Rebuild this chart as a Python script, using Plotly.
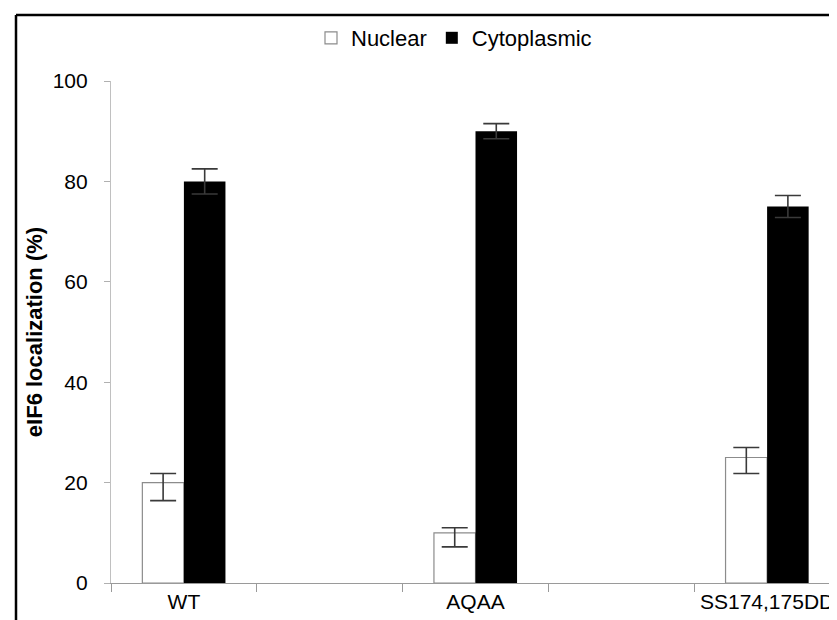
import plotly.graph_objects as go

categories = ["WT", "", "AQAA", "", "SS174,175DD"]
nuclear = [20, None, 10, None, 25]
nuclear_err_plus = [1.8, None, 1.0, None, 2.0]
nuclear_err_minus = [3.6, None, 2.8, None, 3.2]
cyto = [80, None, 90, None, 75]
cyto_err_plus = [2.5, None, 1.5, None, 2.2]
cyto_err_minus = [2.5, None, 1.5, None, 2.2]
y_ticks = [0, 20, 40, 60, 80, 100]

xpos = list(range(len(categories)))
label_pos = [i for i, c in enumerate(categories) if c]
label_txt = [c for c in categories if c]

W, H = 837, 620
ML, MR, MT, MB = 103, 5, 73, 45
PW = W - ML - MR
PH = H - MT - MB

font = "Liberation Sans, Arial, sans-serif"

fig = go.Figure()
fig.add_trace(go.Bar(
    x=xpos, y=nuclear, name="Nuclear",
    marker=dict(color="white", line=dict(color="#8c8c8c", width=1.2)),
    error_y=dict(type="data", symmetric=False, array=nuclear_err_plus,
                 arrayminus=nuclear_err_minus, color="#3a3a3a",
                 thickness=1.6, width=13),
))
fig.add_trace(go.Bar(
    x=xpos, y=cyto, name="Cytoplasmic",
    marker=dict(color="black", line=dict(color="black", width=0)),
    error_y=dict(type="data", symmetric=False, array=cyto_err_plus,
                 arrayminus=cyto_err_minus, color="#3a3a3a",
                 thickness=1.6, width=13),
))

def px(x):
    return (x - ML) / PW

def py(y):
    return (H - MB - y) / PH

shapes = [
    dict(type="line", xref="paper", yref="paper", x0=px(8), x1=px(837),
         y0=py(7), y1=py(7), line=dict(color="black", width=2.5)),
    dict(type="line", xref="paper", yref="paper", x0=px(8), x1=px(8),
         y0=py(7), y1=py(620), line=dict(color="black", width=2.5)),
]

fig.update_layout(
    width=W, height=H,
    margin=dict(l=ML, r=MR, t=MT, b=MB),
    paper_bgcolor="white", plot_bgcolor="white",
    barmode="group", bargap=0.43, bargroupgap=0,
    font=dict(family=font, size=22, color="black"),
    showlegend=True,
    legend=dict(orientation="h", x=px(446), xanchor="center", y=py(30),
                yanchor="middle", font=dict(size=22), itemwidth=30,
                traceorder="normal"),
    shapes=shapes,
    xaxis=dict(
        range=[-0.5, len(categories) - 0.5],
        tickmode="array", tickvals=label_pos, ticktext=label_txt,
        ticks="", showgrid=False, zeroline=False,
        showline=True, linecolor="#9a9a9a", linewidth=1.2,
        tickfont=dict(size=21, color="black"),
        minor=dict(tick0=-0.5, dtick=1, ticks="outside", ticklen=8,
                   tickcolor="#9a9a9a", tickwidth=1, showgrid=False),
    ),
    yaxis=dict(
        range=[0, 100], tickmode="array", tickvals=y_ticks,
        ticks="outside", ticklen=6, tickcolor="#b0b0b0",
        showgrid=False, zeroline=False,
        showline=True, linecolor="#c0c0c0", linewidth=1.2,
        tickfont=dict(size=21, color="black"),
        ticklabelstandoff=12,
        title=dict(text="<b>eIF6 localization (%)</b>",
                   font=dict(size=22, color="black"), standoff=3),
    ),
)

fig.write_html("out.html")
